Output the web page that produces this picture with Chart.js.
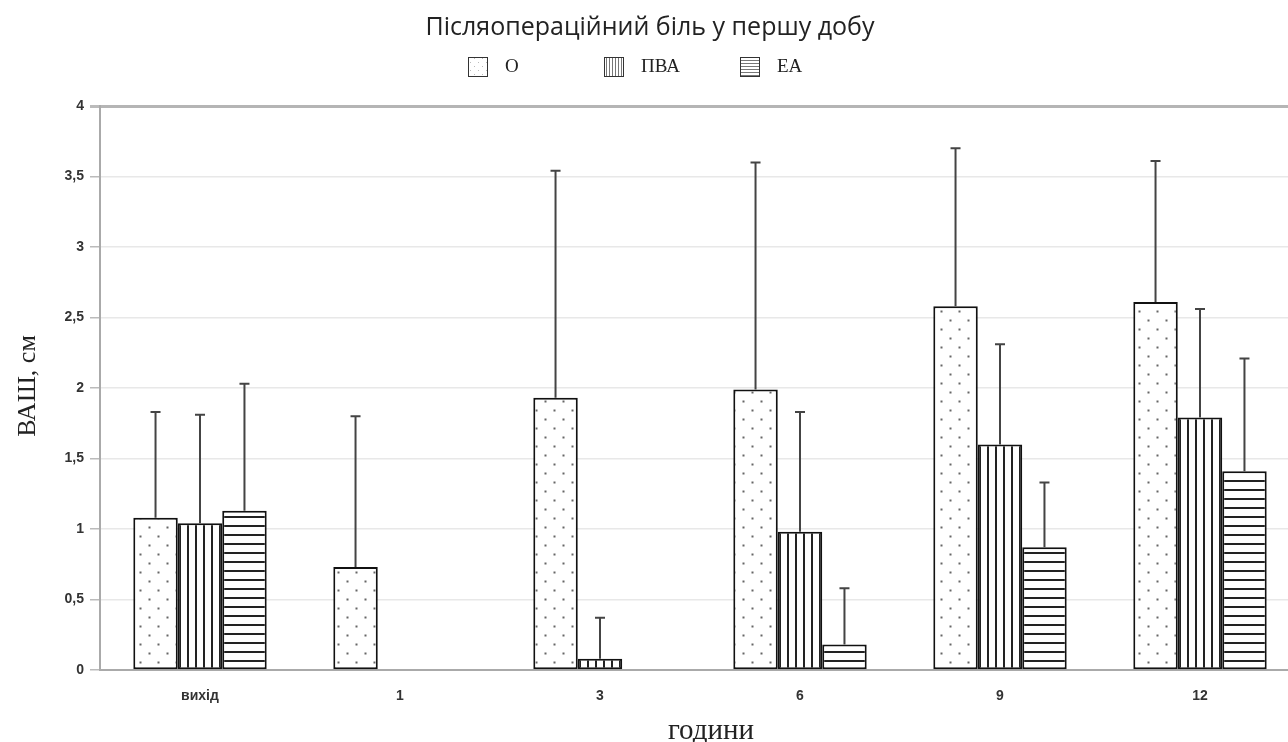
<!DOCTYPE html>
<html>
<head>
<meta charset="utf-8">
<script src="https://cdn.jsdelivr.net/npm/chart.js@4"></script>
<style>
  html, body { margin: 0; padding: 0; background: #fff; overflow: hidden; }
  #wrap { width: 1300px; height: 742px; }
</style>
</head>
<body>
<div id="wrap"><canvas id="pain"></canvas></div>
<script>
// --- ДАНІ ---
const categories = ['вихід', '1', '3', '6', '9', '12'];
const seriesNames = ['О', 'ПВА', 'ЕА'];
const oMean   = [1.08, 0.73, 1.93, 1.99, 2.58, 2.61];
const oSd     = [0.75, 1.07, 1.61, 1.61, 1.12, 1.00];
const pvaMean = [1.04, 0, 0.08, 0.98, 1.60, 1.79];
const pvaSd   = [0.77, 0, 0.29, 0.85, 0.71, 0.77];
const eaMean  = [1.13, 0, 0, 0.18, 0.87, 1.41];
const eaSd    = [0.90, 0, 0, 0.40, 0.46, 0.80];
const yTicks  = [0, 0.5, 1, 1.5, 2, 2.5, 3, 3.5, 4];

// --- ШТРИХУВАННЯ ---
// step — крок штриха, ink — колір штриха
function makePattern(kind, step, ink, w) {
    const c = document.createElement('canvas');
    const g = c.getContext('2d');
    if (kind === 'dots') {
        c.width = step * 2; c.height = step * 2;
        g.fillStyle = '#fff'; g.fillRect(0, 0, c.width, c.height);
        g.fillStyle = ink;
        g.fillRect(step / 2, step / 2, w, w);
        g.fillRect(step * 1.5, step * 1.5, w, w);
    } else if (kind === 'vert') {
        c.width = step; c.height = step;
        g.fillStyle = '#fff'; g.fillRect(0, 0, step, step);
        g.fillStyle = ink;
        g.fillRect(Math.floor(step / 2) - 1, 0, w, step);
    } else {
        c.width = step; c.height = step;
        g.fillStyle = '#fff'; g.fillRect(0, 0, step, step);
        g.fillStyle = ink;
        g.fillRect(0, Math.floor(step / 2) - 1, step, w);
    }
    return g.createPattern(c, 'repeat');
}
const fills = [makePattern('dots', 9, '#666', 2), makePattern('vert', 8, '#222', 2), makePattern('horiz', 9, '#222', 2)];
const legendFills = [makePattern('dots', 4, '#bbb', 1), makePattern('vert', 3, '#777', 1), makePattern('horiz', 3, '#777', 1)];
const sds = [oSd, pvaSd, eaSd];

// Вуса похибок (тільки вгору)
const errorBars = {
    id: 'errorBars',
    afterDatasetsDraw(chart) {
        const { ctx, scales: { y } } = chart;
        ctx.save();
        ctx.strokeStyle = '#444';
        ctx.lineWidth = 2;
        chart.data.datasets.forEach((ds, i) => {
            const meta = chart.getDatasetMeta(i);
            meta.data.forEach((bar, j) => {
                const sd = sds[i][j];
                if (!sd) return;
                const top = y.getPixelForValue(ds.data[j] + sd);
                ctx.beginPath();
                ctx.moveTo(bar.x, bar.y);
                ctx.lineTo(bar.x, top);
                ctx.moveTo(bar.x - 5, top);
                ctx.lineTo(bar.x + 5, top);
                ctx.stroke();
            });
        });
        ctx.restore();
    }
};

// Заголовок, легенда, підписи осей
const header = {
    id: 'header',
    afterDraw(chart) {
        const { ctx, chartArea } = chart;
        ctx.save();
        ctx.fillStyle = '#222';
        ctx.font = '25px "Open Sans", "Noto Sans", sans-serif';
        ctx.textAlign = 'center';
        ctx.textBaseline = 'middle';
        ctx.fillText('Післяопераційний біль у першу добу', 650, 28);

        ctx.font = '19px "Liberation Serif", serif';
        ctx.textAlign = 'left';
        seriesNames.forEach((name, i) => {
            const x = 468 + i * 136;
            ctx.fillStyle = legendFills[i];
            ctx.fillRect(x, 57, 20, 20);
            ctx.strokeStyle = '#333';
            ctx.lineWidth = 1;
            ctx.strokeRect(x + 0.5, 57.5, 19, 19);
            ctx.fillStyle = '#222';
            ctx.fillText(name, x + 37, 67);
        });

        // підпис осі X
        ctx.textAlign = 'center';
        ctx.font = '29px "Liberation Serif", serif';
        ctx.fillText('години', 711, 731);

        // підпис осі Y
        ctx.font = '26px "Liberation Serif", serif';
        ctx.translate(28, (chartArea.top + chartArea.bottom) / 2 - 2);
        ctx.rotate(-Math.PI / 2);
        ctx.fillText('ВАШ, см', 0, 0);
        ctx.restore();
    }
};

const ctx = document.getElementById('pain').getContext('2d');
new Chart(ctx, {
    type: 'bar',
    data: {
        labels: categories,
        datasets: [oMean, pvaMean, eaMean].map((d, i) => ({
            label: seriesNames[i],
            data: d,
            backgroundColor: fills[i],
            borderColor: '#111',
            borderWidth: 2,
            borderSkipped: false,
            barPercentage: 1,
            categoryPercentage: 0.667
        }))
    },
    options: {
        responsive: true,
        maintainAspectRatio: false,
        animation: false,
        layout: { padding: { top: 106, right: 0, bottom: 0, left: 0 } },
        plugins: {
            legend: { display: false },
            title: { display: false },
            tooltip: { enabled: false }
        },
        scales: {
            x: {
                grid: { display: false, drawTicks: false },
                border: { color: '#aaa', width: 2 },
                ticks: {
                    padding: 18,
                    color: '#333',
                    font: { family: '"Liberation Sans", Arial', size: 14, weight: 'bold' }
                },
                afterFit: (s) => { s.height = 72; }
            },
            y: {
                min: 0,
                max: 4,
                afterBuildTicks: (s) => { s.ticks = yTicks.map(v => ({ value: v })); },
                grid: {
                    color: (c) => c.tick && c.tick.value === 4 ? '#b5b5b5' : '#e8e8e8',
                    lineWidth: (c) => c.tick && c.tick.value === 4 ? 3 : 1.5,
                    tickColor: '#bbb',
                    tickLength: 10
                },
                border: { color: '#aaa', width: 2 },
                ticks: {
                    padding: 6,
                    color: '#333',
                    font: { family: '"Liberation Sans", Arial', size: 14, weight: 'bold' },
                    callback: (v) => String(v).replace('.', ',')
                },
                afterFit: (s) => { s.width = 100; }
            }
        }
    },
    plugins: [errorBars, header]
});
</script>
</body>
</html>
